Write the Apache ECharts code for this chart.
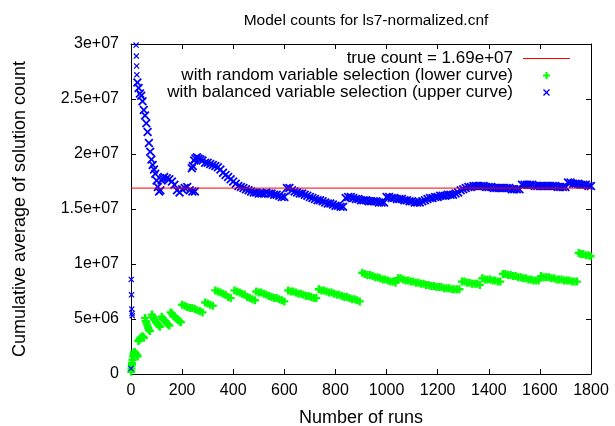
<!DOCTYPE html>
<html><head><meta charset="utf-8">
<script src="https://cdn.jsdelivr.net/npm/echarts@6/dist/echarts.min.js"></script>
<style>html,body{margin:0;padding:0;background:#fff}#c{width:615px;height:426px}</style>
</head><body><div id="c"></div>
<script>
// values in millions (1e6)
const titleText = 'Model counts for ls7-normalized.cnf';
const xAxisName = 'Number of runs';
const yAxisName = 'Cumulative average of solution count';
const yTickLabels = ['0','5e+06','1e+07','1.5e+07','2e+07','2.5e+07','3e+07'];
const trueCount = 16.9;
const trueName = 'true count = 1.69e+07';
const randomName = 'with random variable selection (lower curve)';
const balancedName = 'with balanced variable selection (upper curve)';

const randomSelection = [
[1,0.2],[2,0.5],[3,0.8],[4,1.0],[6,1.3],[8,1.6],[10,1.8],[12,2.0],[14,2.0],[17,1.9],[20,1.8],[23,1.7],[26,1.6],
[29,3.0],[32,3.1],[35,3.2],[38,3.3],[41,3.3],[44,3.4],[47,3.4],[50,3.3],
[55,5.1],[58,4.8],[61,4.6],[64,4.4],[67,4.2],[70,4.0],[74,3.9],
[82,5.4],[86,5.2],[90,5.0],[94,4.9],[98,4.7],[102,4.6],[106,4.5],[110,4.4],[113,4.3],
[120,5.2],[125,5.0],[130,4.9],[135,4.8],[140,4.6],[145,4.5],[150,4.4],
[155,5.6],[160,5.5],[165,5.3],[170,5.2],[175,5.1],[180,5.0],[185,4.9],[190,4.8],[195,4.7],
[200,6.3],[210,6.2],[220,6.1],[230,6.0],[240,6.0],[250,5.9],[260,5.8],[270,5.7],[280,5.6],
[290,6.5],[300,6.4],[310,6.3],[320,6.2],
[330,7.6],[340,7.5],[350,7.4],[360,7.3],[370,7.2],[380,7.0],[390,6.9],
[405,7.6],[415,7.5],[425,7.4],[435,7.3],[445,7.2],[455,7.0],[465,6.9],[475,6.8],[485,6.7],
[490,7.5],[500,7.4],[510,7.4],[520,7.3],[530,7.2],[540,7.1],[550,7.0],[560,6.9],[570,6.9],[580,6.8],[590,6.7],[600,6.6],
[615,7.6],[625,7.5],[635,7.5],[645,7.4],[655,7.3],[665,7.3],[675,7.2],[685,7.1],[695,7.1],[705,7.0],[715,6.9],[725,6.9],
[735,7.7],[745,7.6],[755,7.6],[765,7.5],[775,7.4],[785,7.4],[795,7.3],[805,7.2],[815,7.2],[825,7.1],[835,7.0],[845,7.0],[855,6.9],[865,6.8],[875,6.8],[885,6.7],[895,6.6],
[905,9.2],[915,9.1],[925,9.0],[935,9.0],[945,8.9],[955,8.8],[965,8.8],[975,8.7],[985,8.6],[995,8.6],[1005,8.5],[1015,8.4],[1025,8.4],[1035,8.3],
[1045,8.7],[1055,8.7],[1065,8.6],[1075,8.5],[1085,8.5],[1095,8.4],[1105,8.4],[1115,8.3],[1125,8.3],[1135,8.2],[1145,8.2],[1155,8.1],[1165,8.1],[1175,8.0],[1185,8.0],[1195,7.9],[1205,7.9],[1215,7.9],[1225,7.8],[1235,7.8],[1245,7.8],[1255,7.7],[1265,7.7],[1275,7.7],[1285,7.7],
[1295,8.4],[1305,8.4],[1315,8.3],[1325,8.3],[1335,8.2],[1345,8.2],[1355,8.2],[1365,8.1],
[1375,8.7],[1385,8.6],[1395,8.6],[1405,8.6],[1415,8.5],[1425,8.5],[1435,8.4],[1445,8.4],
[1455,9.1],[1465,9.1],[1475,9.0],[1485,9.0],[1495,8.9],[1505,8.9],[1515,8.8],[1525,8.8],[1535,8.7],[1545,8.7],[1555,8.6],[1565,8.6],[1575,8.5],[1585,8.5],[1595,8.5],
[1605,8.9],[1615,8.8],[1625,8.8],[1635,8.8],[1645,8.7],[1655,8.7],[1665,8.6],[1675,8.6],[1685,8.6],[1695,8.5],[1705,8.5],[1715,8.5],[1725,8.4],[1735,8.4],[1745,8.4],
[1752,11.0],[1760,10.9],[1770,10.9],[1780,10.8],[1790,10.8],[1798,10.7]
];

const balancedSelection = [
[0,0.5],[1,8.6],[2,7.2],[3,5.9],[4,5.5],[5,5.3],
[20,29.9],[21,28.9],[22,28.0],[23,27.2],
[25,26.5],[30,26.0],[35,25.5],[40,25.3],[45,24.8],[50,24.0],[55,23.5],[60,22.8],[65,22.0],[70,21.0],[75,20.2],[80,19.5],[85,19.0],[90,18.6],[95,18.2],[100,17.6],[105,17.0],[110,16.6],[115,16.7],[120,17.6],[125,17.8],[130,17.9],[140,17.8],[150,17.7],[160,17.5],[170,17.2],[180,16.7],[190,16.5],[200,16.8],[210,16.9],[220,17.0],[230,16.7],[240,16.6],[250,16.6],
[238,18.7],[242,18.9],[247,19.4],[252,19.6],[258,19.7],[265,19.6],[272,19.5],[280,19.4],[290,19.2],[300,19.2],[310,19.1],[320,19.0],[330,18.9],[340,18.8],[350,18.6],[360,18.3],[370,18.1],[380,17.9],[390,17.7],[400,17.5],[410,17.3],[420,17.1],[430,17.0],[440,16.9],[450,16.8],[460,16.7],[470,16.6],[480,16.5],[490,16.5],[500,16.4],[510,16.4],[520,16.4],[530,16.5],[540,16.4],[550,16.4],[560,16.3],[570,16.3],[580,16.2],[590,16.1],[600,16.1],
[610,16.9],[620,16.9],[630,16.7],[640,16.6],[650,16.5],[660,16.4],[670,16.4],[680,16.3],[690,16.2],[700,16.1],[710,16.0],[720,15.9],[730,15.8],[740,15.8],[750,15.7],[760,15.6],[770,15.5],[780,15.5],[790,15.4],[800,15.3],[810,15.3],[820,15.2],[830,15.2],
[840,16.0],[850,16.1],[860,16.1],[870,16.0],[880,15.9],[890,15.9],[900,15.8],[910,15.8],[920,15.8],[930,15.7],[940,15.7],[950,15.7],[960,15.7],[970,15.6],[980,15.6],[990,15.6],
[1000,16.1],[1010,16.1],[1020,16.0],[1030,16.0],[1040,15.9],[1050,15.9],[1060,15.9],[1070,15.8],[1080,15.8],[1090,15.7],[1100,15.7],[1110,15.6],[1120,15.6],[1130,15.6],[1140,15.7],[1150,15.8],[1160,15.9],[1170,16.0],[1180,16.0],[1190,16.1],[1200,16.1],[1210,16.2],[1220,16.2],[1230,16.2],[1240,16.3],[1250,16.3],[1260,16.3],[1270,16.4],[1280,16.5],[1290,16.7],[1300,16.8],[1310,16.9],[1320,17.0],[1330,17.0],[1340,17.1],[1350,17.1],[1360,17.1],[1370,17.1],[1380,17.1],[1390,17.0],[1400,17.0],[1410,17.0],[1420,16.9],[1430,16.9],[1440,16.9],[1450,16.9],[1460,16.9],[1470,16.9],[1480,16.9],[1490,16.8],[1500,16.8],[1510,16.8],[1520,16.8],
[1530,17.2],[1540,17.2],[1550,17.2],[1560,17.2],[1570,17.2],[1580,17.1],[1590,17.1],[1600,17.1],[1610,17.1],[1620,17.1],[1630,17.1],[1640,17.1],[1650,17.1],[1660,17.1],[1670,17.0],[1680,17.0],[1690,17.0],[1700,17.0],
[1710,17.4],[1720,17.4],[1730,17.3],[1740,17.3],[1750,17.3],[1760,17.2],[1770,17.2],[1780,17.2],[1790,17.1],[1800,17.1]
];

const FONT = "'Liberation Sans', Arial, sans-serif";
const PLUS = 'path://M-1.5,-5L1.5,-5L1.5,-1.5L5,-1.5L5,1.5L1.5,1.5L1.5,5L-1.5,5L-1.5,1.5L-5,1.5L-5,-1.5L-1.5,-1.5Z';
const CROSS = 'path://M-5,-3.6L-3.6,-5L0,-1.4L3.6,-5L5,-3.6L1.4,0L5,3.6L3.6,5L0,1.4L-3.6,5L-5,3.6L-1.4,0Z';
const LINEICON = 'path://M0,0L47,0L47,1L0,1Z';

const chart = echarts.init(document.getElementById('c'), null, {renderer: 'canvas'});
const tickStyle = {show: true, inside: true, length: 5, lineStyle: {color: '#000', width: 1}};
const lineStyleAxis = {show: true, onZero: false, lineStyle: {color: '#000', width: 1}};
chart.setOption({
  animation: false,
  backgroundColor: '#fff',
  title: {text: titleText, left: 361, top: 8, textAlign: 'center',
    textStyle: {fontFamily: FONT, fontSize: 15.5, fontWeight: 'normal', color: '#000'}},
  legend: {
    orient: 'vertical', right: 45, top: 50, align: 'right', padding: 0, itemGap: 0,
    itemWidth: 47, itemHeight: 7, symbolKeepAspect: true,
    textStyle: {fontFamily: FONT, fontSize: 17, color: '#000', lineHeight: 17, padding: [0, 5, 0, 0]},
    data: [{name: trueName, icon: LINEICON}, {name: randomName, icon: PLUS}, {name: balancedName, icon: CROSS}],
    selectedMode: false
  },
  grid: {left: 131, right: 24, top: 44, bottom: 52, outerBoundsMode: 'none', containLabel: false},
  xAxis: [{
    type: 'value', min: 0, max: 1800, interval: 200, position: 'bottom',
    name: xAxisName, nameLocation: 'middle', nameGap: 35,
    nameTextStyle: {fontFamily: FONT, fontSize: 18, color: '#000'},
    axisLine: lineStyleAxis, axisTick: tickStyle, splitLine: {show: false},
    axisLabel: {fontFamily: FONT, fontSize: 16, color: '#000', margin: 9, formatter: v => String(v)}
  }, {
    type: 'value', min: 0, max: 1800, interval: 200, position: 'top',
    axisLine: lineStyleAxis, axisTick: tickStyle, splitLine: {show: false}, axisLabel: {show: false}
  }],
  yAxis: [{
    type: 'value', min: 0, max: 30, interval: 5, position: 'left',
    name: yAxisName, nameLocation: 'middle', nameGap: 102, nameRotate: 90,
    nameTextStyle: {fontFamily: FONT, fontSize: 18, color: '#000'},
    axisLine: lineStyleAxis, axisTick: tickStyle, splitLine: {show: false},
    axisLabel: {fontFamily: FONT, fontSize: 16, color: '#000', margin: 12,
      formatter: v => yTickLabels[Math.round(v / 5)]}
  }, {
    type: 'value', min: 0, max: 30, interval: 5, position: 'right',
    axisLine: lineStyleAxis, axisTick: tickStyle, splitLine: {show: false}, axisLabel: {show: false}
  }],
  series: [{
    name: trueName, type: 'line', symbol: 'none', silent: true,
    data: [[0, trueCount], [1800, trueCount]],
    lineStyle: {color: '#ff0000', width: 1}, itemStyle: {color: '#ff0000'}
  }, {
    name: randomName, type: 'scatter', symbol: PLUS, symbolSize: 8, clip: false, silent: true,
    data: randomSelection, itemStyle: {color: '#00ff00', opacity: 1}
  }, {
    name: balancedName, type: 'scatter', symbol: CROSS, clip: false, silent: true,
    symbolSize: v => (v[0] < 24 ? 6 : 9),
    data: balancedSelection, itemStyle: {color: '#0000ff', opacity: 1}
  }]
});
</script>
</body></html>
